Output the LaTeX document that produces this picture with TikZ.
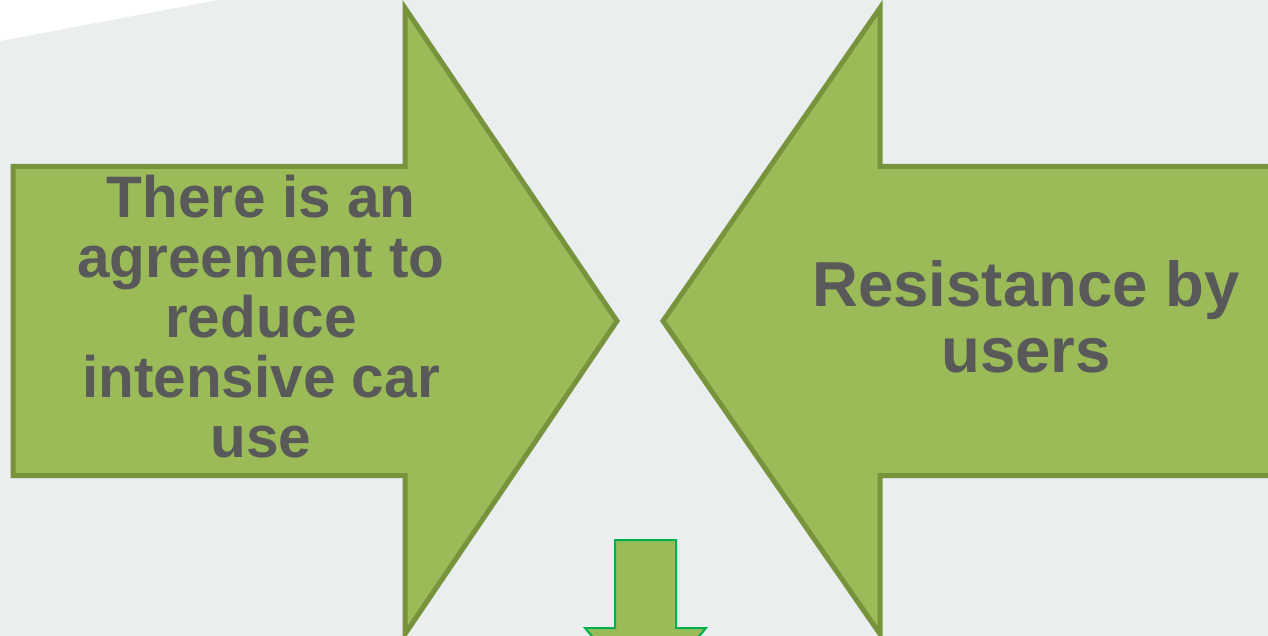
\documentclass[tikz,border=0pt]{standalone}
\usepackage{fontspec}
\setmainfont{Liberation Sans}
\definecolor{bg}{HTML}{EBEEEF}
\definecolor{arrowfill}{HTML}{9BBB59}
\definecolor{arrowline}{HTML}{77933C}
\definecolor{downline}{HTML}{00B050}
\definecolor{txt}{HTML}{595959}
\tikzset{
  bigarrow/.style={fill=arrowfill, draw=arrowline, line width=5pt, line join=miter},
  smallarrow/.style={fill=arrowfill, draw=downline, line width=2pt, line join=miter},
  lbl/.style={text=txt, align=center, font=\bfseries},
}
\begin{document}
\begin{tikzpicture}[x=1pt, y=-1pt]
\useasboundingbox (0,0) rectangle (1268,636);
\fill[bg] (0,0) rectangle (1268,636);
\clip (0,0) rectangle (1268,636);
\fill[white] (0,0) -- (218,0) -- (0,41) -- cycle;
% left arrow
\draw[bigarrow] (13,166.5) -- (405,166.5) -- (405,8) -- (617,321) -- (405,634) -- (405,475.5) -- (13,475.5) -- cycle;
% right arrow
\draw[bigarrow] (1280,166.5) -- (880,166.5) -- (880,8) -- (663,321) -- (880,634) -- (880,475.5) -- (1280,475.5) -- cycle;
% down arrow
\draw[smallarrow] (615,540) -- (676,540) -- (676,628) -- (706,628) -- (645.5,700) -- (585,628) -- (615,628) -- cycle;
\node[lbl, font=\bfseries\fontsize{58.5}{60}\selectfont] (agree) at (261,317) {There is an\\agreement to\\reduce\\intensive car\\use};
\node[lbl, font=\bfseries\fontsize{63.5}{66}\selectfont] (resist) at (1026,317) {Resistance by\\users};
\end{tikzpicture}
\end{document}
